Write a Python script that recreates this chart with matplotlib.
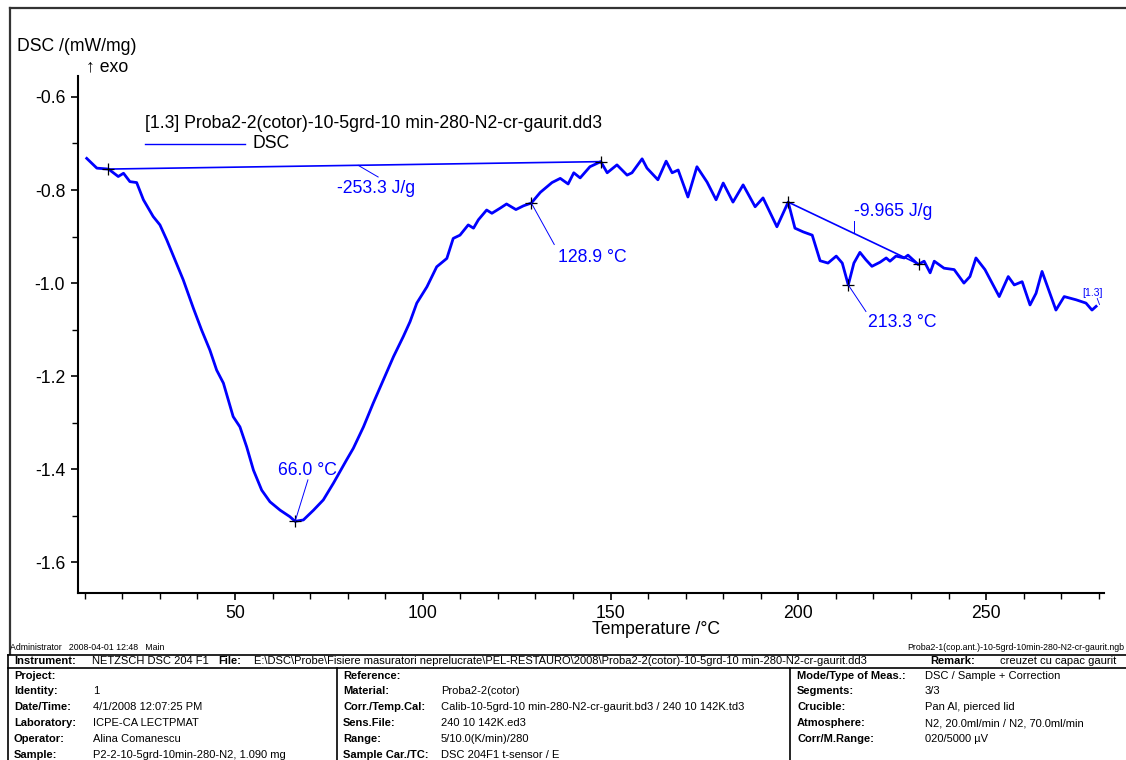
import matplotlib
matplotlib.use("Agg")
import matplotlib.pyplot as plt
from matplotlib.lines import Line2D
from matplotlib.ticker import MultipleLocator, FixedLocator

plt.rcParams['font.family'] = ['Liberation Sans', 'DejaVu Sans']

# ---------------- data ----------------
temperature = [10.5, 13.2, 16.3, 18.9, 20.3, 22.0, 23.8, 25.6, 28.2, 30.0, 31.8, 34.0,
               36.2, 38.9, 41.1, 43.3, 45.1, 46.9, 48.2, 49.5, 51.3, 53.1, 54.9, 57.1,
               59.3, 62.0, 64.6, 66.0, 68.2, 70.9, 73.5, 76.2, 79.7, 81.5, 84.2, 86.8,
               89.5, 92.2, 94.8, 96.6, 98.4, 101.1, 103.7, 106.4, 108.1, 109.9, 112.1,
               113.5, 114.8, 117.0, 118.4, 120.6, 122.3, 124.8, 126.8, 128.9, 131.3,
               134.4, 136.6, 138.7, 140.2, 141.9, 144.5, 147.4, 149.1, 151.7, 154.4,
               155.7, 158.4, 159.7, 162.6, 164.8, 166.4, 168.0, 170.6, 173.0, 175.7,
               178.1, 180.0, 182.6, 185.3, 188.5, 190.6, 194.3, 197.3, 199.1, 201.3,
               203.7, 205.8, 207.9, 210.1, 211.7, 213.3, 214.8, 216.4, 218.0, 219.6,
               221.8, 223.4, 224.4, 226.0, 228.2, 229.2, 231.9, 233.5, 235.1, 236.2,
               238.8, 241.5, 244.1, 245.7, 247.3, 249.7, 253.5, 255.9, 257.5, 259.6,
               261.7, 263.3, 264.9, 268.6, 270.8, 274.0, 276.6, 278.2, 279.3]
dsc = [-0.732, -0.753, -0.755, -0.771, -0.764, -0.782, -0.784, -0.821, -0.857, -0.875,
       -0.907, -0.950, -0.993, -1.054, -1.101, -1.144, -1.187, -1.215, -1.251, -1.287,
       -1.309, -1.352, -1.402, -1.445, -1.470, -1.488, -1.502, -1.512, -1.509, -1.488,
       -1.466, -1.430, -1.380, -1.355, -1.309, -1.258, -1.208, -1.158, -1.115, -1.083,
       -1.043, -1.008, -0.965, -0.947, -0.904, -0.897, -0.875, -0.882, -0.864, -0.843,
       -0.850, -0.839, -0.830, -0.842, -0.834, -0.828, -0.805, -0.784, -0.775, -0.787,
       -0.763, -0.774, -0.750, -0.739, -0.763, -0.746, -0.768, -0.763, -0.733, -0.753,
       -0.778, -0.738, -0.763, -0.757, -0.815, -0.750, -0.783, -0.821, -0.785, -0.826,
       -0.789, -0.836, -0.817, -0.879, -0.826, -0.882, -0.890, -0.897, -0.952, -0.957,
       -0.942, -0.957, -1.004, -0.957, -0.934, -0.950, -0.964, -0.955, -0.946, -0.953,
       -0.942, -0.946, -0.940, -0.960, -0.953, -0.978, -0.953, -0.968, -0.971, -1.000,
       -0.986, -0.946, -0.971, -1.029, -0.986, -1.004, -0.997, -1.047, -1.022, -0.975,
       -1.058, -1.029, -1.036, -1.043, -1.058, -1.050]

baseline1_t = [16.3, 147.4]
baseline1_v = [-0.755, -0.739]
baseline2_t = [197.3, 232.2]
baseline2_v = [-0.826, -0.960]

marker_t = [16.3, 147.4, 66.0, 128.9, 197.3, 232.2, 213.3]
marker_v = [-0.755, -0.739, -1.512, -0.828, -0.826, -0.960, -1.004]

x_major = [50, 100, 150, 200, 250]
y_major = [-0.6, -0.8, -1.0, -1.2, -1.4, -1.6]

legend_title = "[1.3] Proba2-2(cotor)-10-5grd-10 min-280-N2-cr-gaurit.dd3"
instrument_row = [("Instrument:", True, 14), ("NETZSCH DSC 204 F1", False, 92),
                  ("File:", True, 218),
                  ("E:\\DSC\\Probe\\Fisiere masuratori neprelucrate\\PEL-RESTAURO\\2008\\Proba2-2(cotor)-10-5grd-10 min-280-N2-cr-gaurit.dd3", False, 254),
                  ("Remark:", True, 930), ("creuzet cu capac gaurit", False, 1000)]
col1_labels = ["Project:", "Identity:", "Date/Time:", "Laboratory:", "Operator:", "Sample:"]
col1_values = ["", "1", "4/1/2008 12:07:25 PM", "ICPE-CA LECTPMAT", "Alina Comanescu",
               "P2-2-10-5grd-10min-280-N2, 1.090 mg"]
col2_labels = ["Reference:", "Material:", "Corr./Temp.Cal:", "Sens.File:", "Range:", "Sample Car./TC:"]
col2_values = ["", "Proba2-2(cotor)", "Calib-10-5grd-10 min-280-N2-cr-gaurit.bd3 / 240 10 142K.td3",
               "240 10 142K.ed3", "5/10.0(K/min)/280", "DSC 204F1 t-sensor / E"]
col3_labels = ["Mode/Type of Meas.:", "Segments:", "Crucible:", "Atmosphere:", "Corr/M.Range:"]
col3_values = ["DSC / Sample + Correction", "3/3", "Pan Al, pierced lid",
               "N2, 20.0ml/min / N2, 70.0ml/min", "020/5000 \u00b5V"]

# ---------------- figure ----------------
W, H = 1126, 760
fig = plt.figure(figsize=(W / 100, H / 100), dpi=100)
fig.patch.set_facecolor('white')


def fx(px):
    return px / W


def fy(py):
    return 1 - py / H


BLUE = '#0000ff'
FS = 12.7

ax = fig.add_axes([fx(77.7), fy(593), fx(1104) - fx(77.7), fy(76) - fy(593)])
ax.plot(temperature, dsc, color=BLUE, lw=2.0, solid_joinstyle='round')
ax.plot(baseline1_t, baseline1_v, color=BLUE, lw=1.2)
ax.plot(baseline2_t, baseline2_v, color=BLUE, lw=1.2)
ax.plot(marker_t, marker_v, ls='none', marker='+', color='black', ms=9, mew=0.9)

ax.set_xlim(8.1, 281.4)
ax.set_ylim(-1.666, -0.555)
for s in ['top', 'right']:
    ax.spines[s].set_visible(False)
for s in ['left', 'bottom']:
    ax.spines[s].set_linewidth(1.5)
    ax.spines[s].set_color('black')
ax.xaxis.set_major_locator(FixedLocator(x_major))
ax.xaxis.set_minor_locator(MultipleLocator(10))
ax.yaxis.set_major_locator(FixedLocator(y_major))
ax.yaxis.set_minor_locator(MultipleLocator(0.1))
ax.set_xticklabels([str(v) for v in x_major])
ax.set_yticklabels(["%.1f" % v for v in y_major])
ax.tick_params(axis='both', which='major', length=5, width=1.2, labelsize=FS, pad=4, color='black')
ax.tick_params(axis='both', which='minor', length=4, width=1.0, color='black')
ax.patch.set_alpha(0)

# annotations
ann_kw = dict(color=BLUE, fontsize=FS, va='center', ha='left')
ax.text(77.2, -0.796, "-253.3 J/g", **ann_kw)
ax.plot([82.8, 88.1], [-0.747, -0.772], color=BLUE, lw=0.7)
ax.text(136.0, -0.944, "128.9 \u00b0C", **ann_kw)
ax.plot([128.9, 135.0], [-0.828, -0.917], color=BLUE, lw=0.7)
ax.text(214.8, -0.847, "-9.965 J/g", **ann_kw)
ax.plot([214.8, 214.8], [-0.866, -0.893], color=BLUE, lw=0.7)
ax.text(218.6, -1.085, "213.3 \u00b0C", **ann_kw)
ax.plot([213.3, 218.0], [-1.004, -1.061], color=BLUE, lw=0.7)
ax.text(61.5, -1.402, "66.0 \u00b0C", **ann_kw)
ax.plot([69.4, 66.0], [-1.423, -1.512], color=BLUE, lw=0.7)
ax.text(275.6, -1.021, "[1.3]", color=BLUE, fontsize=7.5, va='center', ha='left')
ax.plot([279.6, 280.2], [-1.033, -1.046], color=BLUE, lw=0.6)

# axis titles and legend (figure coords)
fig.text(fx(17), fy(46.7), "DSC /(mW/mg)", fontsize=FS, va='center', ha='left')
fig.text(fx(86), fy(66.7), "\u2191 exo", fontsize=FS, va='center', ha='left')
fig.text(fx(656), fy(629), "Temperature /\u00b0C", fontsize=FS, va='center', ha='center')
fig.text(fx(145), fy(124), legend_title, fontsize=FS, va='center', ha='left')
fig.add_artist(Line2D([fx(145), fx(245)], [fy(144), fy(144)], color=BLUE, lw=1.0))
fig.text(fx(252), fy(144), "DSC", fontsize=FS, va='center', ha='left')

# outer frame
fig.add_artist(Line2D([fx(10), fx(1130)], [fy(7.5), fy(7.5)], color='#333333', lw=1.6))
fig.add_artist(Line2D([fx(10), fx(10)], [fy(7.5), fy(654)], color='#333333', lw=1.6))

# footer
fig.text(fx(10), fy(648), "Administrator   2008-04-01 12:48   Main", fontsize=6.3, va='center', ha='left')
fig.text(fx(1124), fy(648), "Proba2-1(cop.ant.)-10-5grd-10min-280-N2-cr-gaurit.ngb", fontsize=6.3,
         va='center', ha='right')

# table
TL = dict(color='black', lw=1.2)
fig.add_artist(Line2D([fx(8), fx(1130)], [fy(655), fy(655)], **TL))
fig.add_artist(Line2D([fx(8), fx(1130)], [fy(668), fy(668)], **TL))
fig.add_artist(Line2D([fx(8), fx(8)], [fy(655), fy(765)], **TL))
fig.add_artist(Line2D([fx(337), fx(337)], [fy(668), fy(765)], **TL))
fig.add_artist(Line2D([fx(790), fx(790)], [fy(668), fy(765)], **TL))

TFS = 8.0
for txt, bold, x in instrument_row:
    fig.text(fx(x), fy(661.5), txt, fontsize=TFS, fontweight='bold' if bold else 'normal',
             va='center', ha='left')

row_y = [676, 691.5, 707, 723, 739, 755]
for i, (lab, val) in enumerate(zip(col1_labels, col1_values)):
    fig.text(fx(14), fy(row_y[i]), lab, fontsize=TFS, fontweight='bold', va='center', ha='left')
    fig.text(fx(93), fy(row_y[i]), val, fontsize=TFS, va='center', ha='left')
for i, (lab, val) in enumerate(zip(col2_labels, col2_values)):
    fig.text(fx(343), fy(row_y[i]), lab, fontsize=TFS, fontweight='bold', va='center', ha='left')
    fig.text(fx(441), fy(row_y[i]), val, fontsize=TFS, va='center', ha='left')
for i, (lab, val) in enumerate(zip(col3_labels, col3_values)):
    fig.text(fx(797), fy(row_y[i]), lab, fontsize=TFS, fontweight='bold', va='center', ha='left')
    fig.text(fx(925), fy(row_y[i]), val, fontsize=TFS, va='center', ha='left')

fig.savefig("out.png", dpi=100)
